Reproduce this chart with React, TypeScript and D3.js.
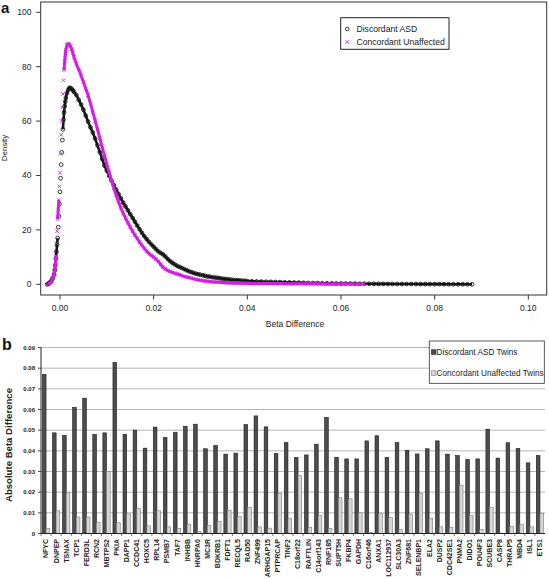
import React from 'react';
import * as d3 from 'd3';

// ---- Panel a: density of beta differences ----
const asdDensity: [number, number][] = [
  [-0.00275, 0], [-0.0025, 0.2], [-0.00225, 0.5], [-0.002, 0.9], [-0.00175, 1.6], [-0.0015, 2.5],
  [-0.00125, 3.6], [-0.001125, 5.2], [-0.001, 7], [-0.000875, 9.4], [-0.00075, 12], [-0.000625, 14.5],
  [-0.0005, 17], [-0.000375, 21], [-0.00025, 25], [-0.000125, 29.5], [0, 34], [0.000125, 39],
  [0.00025, 44], [0.000375, 48.5], [0.0005, 53], [0.000625, 57], [0.00075, 60.5], [0.000875, 63.2],
  [0.001, 65.5], [0.001125, 67.2], [0.00125, 68.5], [0.0015, 70.3],
  [0.00175, 71.5], [0.002, 72.2], [0.00225, 72.2], [0.0025, 71.8], [0.00275, 71.3], [0.003, 70.7],
  [0.0035, 69.6], [0.004, 67.8], [0.0045, 66.1], [0.005, 64.2], [0.0055, 62.0], [0.006, 59.8],
  [0.0065, 57.7], [0.007, 55.8], [0.0075, 53.6], [0.008, 51.1], [0.0085, 48.6], [0.009, 46.1],
  [0.0095, 43.6], [0.01, 41.7], [0.0105, 39.9], [0.011, 38.1], [0.0115, 36.4], [0.012, 34.8],
  [0.0125, 33.2], [0.013, 31.6], [0.0135, 30.0], [0.014, 28.6], [0.0145, 27.2], [0.015, 25.8],
  [0.0155, 24.4], [0.016, 23.0], [0.0165, 21.6], [0.017, 20.2], [0.0175, 18.9], [0.018, 17.7],
  [0.0185, 16.6], [0.019, 15.6], [0.0195, 14.7], [0.02, 13.8], [0.0205, 12.9], [0.021, 12.1],
  [0.0215, 11.5], [0.022, 11.0], [0.0225, 10.2], [0.023, 9.3], [0.0235, 8.5], [0.024, 7.9],
  [0.0245, 7.3], [0.025, 6.8], [0.0255, 6.4], [0.026, 6.0], [0.0265, 5.6], [0.027, 5.2],
  [0.0275, 4.8], [0.028, 4.5], [0.0285, 4.2], [0.029, 3.9], [0.0295, 3.7], [0.03, 3.5],
  [0.0305, 3.3], [0.031, 3.1], [0.0315, 2.9], [0.032, 2.8], [0.0325, 2.6], [0.033, 2.5],
  [0.0335, 2.4], [0.034, 2.3], [0.0345, 2.1], [0.035, 2.0], [0.0355, 1.9], [0.036, 1.8],
  [0.0365, 1.7], [0.037, 1.6], [0.0375, 1.5], [0.038, 1.45], [0.0385, 1.4], [0.039, 1.3],
  [0.0395, 1.25], [0.04, 1.2], [0.041, 1.1], [0.042, 1.05], [0.043, 1.0], [0.044, 0.95],
  [0.045, 0.9], [0.046, 0.85], [0.047, 0.8], [0.048, 0.75], [0.049, 0.7], [0.05, 0.65],
  [0.051, 0.6], [0.052, 0.55], [0.053, 0.5], [0.054, 0.45], [0.055, 0.42], [0.056, 0.4],
  [0.057, 0.37], [0.058, 0.35], [0.059, 0.32], [0.06, 0.3], [0.061, 0.28], [0.062, 0.26],
  [0.063, 0.24], [0.064, 0.22], [0.065, 0.2], [0.066, 0.18], [0.067, 0.17], [0.068, 0.16],
  [0.069, 0.15], [0.07, 0.14], [0.071, 0.13], [0.072, 0.12], [0.073, 0.11], [0.074, 0.1],
  [0.075, 0.1], [0.076, 0.09], [0.077, 0.08], [0.078, 0.08], [0.079, 0.07], [0.08, 0.06],
  [0.081, 0.06], [0.082, 0.05], [0.083, 0.04], [0.084, 0.03], [0.085, 0.02], [0.086, 0.02],
  [0.087, 0.01], [0.088, 0],
];

const unaffDensity: [number, number][] = [
  [-0.0025, 0], [-0.00225, 0.3], [-0.002, 0.7], [-0.00175, 1.3], [-0.0015, 2.3], [-0.00125, 3.8],
  [-0.001125, 5.2], [-0.001, 7], [-0.000875, 10.5], [-0.00075, 15], [-0.000625, 19.5], [-0.0005, 24],
  [-0.000375, 27.5], [-0.00025, 31], [-0.000125, 36], [0, 41], [0.000125, 48], [0.00025, 55],
  [0.000375, 60], [0.0005, 65], [0.000625, 70], [0.00075, 75], [0.000875, 78.8], [0.001, 82],
  [0.001125, 84.3], [0.00125, 86.3], [0.0015, 88], [0.00175, 88.4],
  [0.002, 88.2], [0.00225, 87.5], [0.0025, 86.4], [0.00275, 85], [0.003, 83.5],
  [0.0035, 81], [0.004, 79], [0.0045, 76.8], [0.005, 74.4], [0.0055, 72], [0.006, 69.5],
  [0.0065, 66.5], [0.007, 63.4], [0.0075, 60.2], [0.008, 57.0], [0.0085, 53.7], [0.009, 50.4],
  [0.0095, 47.2], [0.01, 44.1], [0.0105, 41.1], [0.011, 38.2], [0.0115, 35.3], [0.012, 32.7],
  [0.0125, 30.3], [0.013, 28.1], [0.0135, 26.1], [0.014, 24.3], [0.0145, 22.6], [0.015, 21.0],
  [0.0155, 19.5], [0.016, 18.1], [0.0165, 16.8], [0.017, 15.5], [0.0175, 14.3], [0.018, 13.2],
  [0.0185, 12.2], [0.019, 11.3], [0.0195, 10.6], [0.02, 10.0], [0.0205, 9.3], [0.021, 8.4],
  [0.0215, 7.3], [0.022, 6.3], [0.0225, 5.6], [0.023, 5.1], [0.0235, 4.7], [0.024, 4.4],
  [0.0245, 4.1], [0.025, 3.8], [0.0255, 3.5], [0.026, 3.2], [0.0265, 2.9], [0.027, 2.7],
  [0.0275, 2.5], [0.028, 2.3], [0.0285, 2.0], [0.029, 1.8], [0.0295, 1.6], [0.03, 1.5],
  [0.0305, 1.3], [0.031, 1.2], [0.0315, 1.1], [0.032, 1.0], [0.0325, 0.9], [0.033, 0.85],
  [0.0335, 0.8], [0.034, 0.75], [0.0345, 0.7], [0.035, 0.65], [0.0355, 0.6], [0.036, 0.55],
  [0.0365, 0.52], [0.037, 0.5], [0.0375, 0.47], [0.038, 0.45], [0.0385, 0.42], [0.039, 0.4],
  [0.0395, 0.38], [0.04, 0.36], [0.041, 0.34], [0.042, 0.32], [0.043, 0.3], [0.044, 0.28],
  [0.045, 0.27], [0.046, 0.26], [0.047, 0.25], [0.048, 0.24], [0.049, 0.23], [0.05, 0.22],
  [0.051, 0.21], [0.052, 0.2], [0.053, 0.19], [0.054, 0.18], [0.055, 0.17], [0.056, 0.16],
  [0.057, 0.15], [0.058, 0.14], [0.059, 0.13], [0.06, 0.12], [0.061, 0.1], [0.062, 0.08],
  [0.063, 0.06], [0.064, 0.04], [0.065, 0.02],
];

const xTicksA = [0, 0.02, 0.04, 0.06, 0.08, 0.1];
const xTickLabelsA = ['0.00', '0.02', '0.04', '0.06', '0.08', '0.10'];
const yTicksA = [0, 20, 40, 60, 80, 100];
const seriesNamesA = ['Discordant ASD', 'Concordant Unaffected'];

// ---- Panel b: absolute beta difference per gene ----
const genes = [
  'NFYC', 'DNPEP', 'TSNAX', 'TCP1', 'FERD3L', 'RCN2', 'MBTPS2', 'PKIA', 'DAPP1', 'CCDC41',
  'HOXC5', 'RPL14', 'PSMB7', 'TAF7', 'INHBB', 'HNRPA0', 'MC3R', 'BDKRB1', 'FDFT1', 'RECQL5',
  'RAD50', 'ZNF499', 'ARHGAP15', 'PTPRCAP', 'TINF2', 'C18orf22', 'RAFTLIN', 'C14orf143', 'RNF185', 'SUPT5H',
  'FKBP4', 'GAPDH', 'C16orf46', 'ANXA1', 'LOC112937', 'SLC30A3', 'ZNF681', 'SELENBP1', 'ELA2', 'DUSP2',
  'CDC42SE1', 'PNMA2', 'DIDO1', 'POU4F3', 'SCUBE3', 'CASP8', 'THRAP5', 'MBD4', 'ISL1', 'ETS1',
];
const asdDiff = [
  0.077, 0.0487, 0.0475, 0.061, 0.0655, 0.048, 0.0487, 0.0828, 0.048, 0.050,
  0.0413, 0.0515, 0.0465, 0.049, 0.0519, 0.0529, 0.041, 0.0426, 0.0384, 0.0389,
  0.0527, 0.0569, 0.0516, 0.0387, 0.044, 0.0368, 0.038, 0.0432, 0.0561, 0.0369,
  0.0361, 0.0361, 0.0448, 0.0473, 0.0368, 0.044, 0.0403, 0.0385, 0.041, 0.0448,
  0.0384, 0.0377, 0.0358, 0.0361, 0.0505, 0.0365, 0.0439, 0.0411, 0.0342, 0.0377,
];
const unaffDiff = [
  0.0025, 0.011, 0.0197, 0.008, 0.008, 0.0053, 0.030, 0.0052, 0.0095, 0.012,
  0.0037, 0.011, 0.0032, 0.0025, 0.0044, 0.001, 0.004, 0.0058, 0.0111, 0.0084,
  0.0127, 0.0032, 0.0026, 0.0195, 0.0074, 0.028, 0.0029, 0.0087, 0.0024, 0.0173,
  0.0168, 0.010, 0.0006, 0.0098, 0.0077, 0.0018, 0.0094, 0.0195, 0.0073, 0.0032,
  0.003, 0.0234, 0.0087, 0.0019, 0.0127, 0.0002, 0.0035, 0.0045, 0.0032, 0.0098,
];
const yTicksB = [0, 0.01, 0.02, 0.03, 0.04, 0.05, 0.06, 0.07, 0.08, 0.09];
const seriesNamesB = ['Discordant ASD Twins', 'Concordant Unaffected Twins'];

const FONT = '"Liberation Sans", Arial, Helvetica, sans-serif';
const BLACK = '#151515';
const MAGENTA = '#d41ee2';

function joinedPath(pts: [number, number][], maxGap: number) {
  let d = '';
  pts.forEach(([x, y], i) => {
    if (i === 0) { d += `M${x},${y}`; return; }
    const [px, py] = pts[i - 1];
    d += Math.hypot(x - px, y - py) < maxGap ? `L${x},${y}` : `M${x},${y}`;
  });
  return d;
}

function Cross({ x, y, s, color }: { x: number; y: number; s: number; color: string }) {
  return (
    <path d={`M${x - s},${y - s}L${x + s},${y + s}M${x - s},${y + s}L${x + s},${y - s}`}
      stroke={color} strokeWidth={0.9} fill="none" />
  );
}

export default function App() {
  // Panel a scales
  const xA = d3.scaleLinear().domain([0, 0.1]).range([60, 528.3]);
  const yA = d3.scaleLinear().domain([0, 100]).range([284.3, 12.3]);
  const frame = { x0: 40.7, x1: 546.7, y0: 2, y1: 295 };

  const asdPts = asdDensity.map(([b, d]) => [xA(b), yA(d)] as [number, number]);
  const unPts = unaffDensity.map(([b, d]) => [xA(b), yA(d)] as [number, number]);

  // Panel b scales
  const xB = d3.scaleBand<string>().domain(genes).range([41, 545]);
  const bw = xB.bandwidth();
  const x1 = d3.scaleBand<string>().domain(['asd', 'unaff']).range([1.4, bw - 1.4]);
  const yB = d3.scaleLinear().domain([0, 0.09]).range([533.5, 347.5]);

  const darkFill = '#4d4d4d';
  const lightFill = '#d6d6d6';

  return (
    <svg width={549} height={579} style={{ position: 'absolute', left: 0, top: 0, background: '#fff' }}
      fontFamily={FONT}>
      <rect x={0} y={0} width={549} height={579} fill="#fff" />
      {/* ---------- Panel a ---------- */}
      <text x={1} y={12.5} fontSize={15} fontWeight="bold" fill="#111">a</text>
      <rect x={frame.x0} y={frame.y0} width={frame.x1 - frame.x0} height={frame.y1 - frame.y0}
        fill="none" stroke="#333" strokeWidth={1} />
      {xTicksA.map((t, i) => (
        <g key={'xa' + i}>
          <line x1={xA(t)} x2={xA(t)} y1={frame.y1} y2={frame.y1 + 4.5} stroke="#333" strokeWidth={1} />
          <text x={xA(t)} y={311} fontSize={8.5} textAnchor="middle" fill="#222">{xTickLabelsA[i]}</text>
        </g>
      ))}
      {yTicksA.map((t) => (
        <g key={'ya' + t}>
          <line x1={frame.x0} x2={frame.x0 - 4.5} y1={yA(t)} y2={yA(t)} stroke="#333" strokeWidth={1} />
          <text x={31.5} y={yA(t)} dy="0.35em" fontSize={8.5} textAnchor="end" fill="#222">{t}</text>
        </g>
      ))}
      <text transform={`translate(6.5,148) rotate(-90)`} fontSize={8} textAnchor="middle" fill="#222">Density</text>
      <text x={295} y={327} fontSize={8.5} textAnchor="middle" fill="#222">Beta Difference</text>

      {/* Discordant ASD: circles */}
      <path d={joinedPath(asdPts, 10)} stroke={BLACK} strokeWidth={2.6} fill="none" strokeLinejoin="round" />
      {asdPts.map(([x, y], i) => (
        <circle key={'ac' + i} cx={x} cy={y} r={1.9} fill="none" stroke={BLACK} strokeWidth={0.85} />
      ))}
      {/* Concordant Unaffected: crosses */}
      <path d={joinedPath(unPts, 10)} stroke={MAGENTA} strokeWidth={3} fill="none" strokeLinejoin="round" />
      {unPts.map(([x, y], i) => (
        <Cross key={'uc' + i} x={x} y={y} s={1.8} color={MAGENTA} />
      ))}

      {/* legend a */}
      <rect x={340.7} y={17.7} width={108.3} height={31.6} fill="#fff" stroke="#222" strokeWidth={1} />
      <circle cx={347.3} cy={29} r={1.8} fill="none" stroke={BLACK} strokeWidth={0.85} />
      <text x={356.5} y={29} dy="0.35em" fontSize={8.6} fill="#222">{seriesNamesA[0]}</text>
      <Cross x={347.3} y={42} s={1.8} color={MAGENTA} />
      <text x={356.5} y={42} dy="0.35em" fontSize={8.6} fill="#222">{seriesNamesA[1]}</text>

      {/* ---------- Panel b ---------- */}
      <text x={2} y={350} fontSize={16} fontWeight="bold" fill="#111">b</text>
      {yTicksB.map((t) => (
        <g key={'yb' + t}>
          {t > 0 && <line x1={41} x2={545} y1={yB(t)} y2={yB(t)} stroke="#b5b5b5" strokeWidth={1} />}
          <line x1={38} x2={41} y1={yB(t)} y2={yB(t)} stroke="#222" strokeWidth={0.8} />
          <text x={35} y={yB(t)} dy="0.35em" fontSize={6} fontWeight="bold" textAnchor="end" fill="#222">
            {t === 0 ? '0' : d3.format('.2f')(t)}
          </text>
        </g>
      ))}
      <text transform={`translate(12,445) rotate(-90)`} fontSize={9.6} fontWeight="bold" textAnchor="middle" fill="#222">
        Absolute Beta Difference
      </text>
      {genes.map((g, i) => {
        const x0 = xB(g) as number;
        return (
          <g key={'bar' + g}>
            <rect x={x0 + (x1('asd') as number)} y={yB(asdDiff[i])} width={x1.bandwidth()}
              height={yB(0) - yB(asdDiff[i])} fill={darkFill} stroke="#1a1a1a" strokeWidth={0.6} />
            <rect x={x0 + (x1('unaff') as number)} y={yB(unaffDiff[i])} width={x1.bandwidth()}
              height={yB(0) - yB(unaffDiff[i])} fill={lightFill} stroke="#7a7a7a" strokeWidth={0.6} />
            <line x1={x0} x2={x0} y1={yB(0)} y2={yB(0) + 2.5} stroke="#222" strokeWidth={0.6} />
            <text transform={`translate(${x0 + bw / 2},539) rotate(-90)`} dy="0.35em" fontSize={7}
              fontWeight="bold" textAnchor="end" fill="#222">{g}</text>
          </g>
        );
      })}
      <line x1={41} x2={41} y1={yB(0.09)} y2={yB(0)} stroke="#222" strokeWidth={1} />
      <line x1={41} x2={545} y1={yB(0)} y2={yB(0)} stroke="#222" strokeWidth={1} />

      {/* legend b */}
      <rect x={429.3} y={341} width={115} height={42.3} fill="#fff" stroke="#333" strokeWidth={0.8} />
      <rect x={431.5} y={349.8} width={4.5} height={4.5} fill={darkFill} stroke="#1a1a1a" strokeWidth={0.6} />
      <text x={436.5} y={352.3} dy="0.35em" fontSize={8.2} fill="#222">{seriesNamesB[0]}</text>
      <rect x={431.5} y={370.8} width={4.5} height={4.5} fill={lightFill} stroke="#7a7a7a" strokeWidth={0.6} />
      <text x={436.5} y={373.3} dy="0.35em" fontSize={8.2} fill="#222">{seriesNamesB[1]}</text>
    </svg>
  );
}
